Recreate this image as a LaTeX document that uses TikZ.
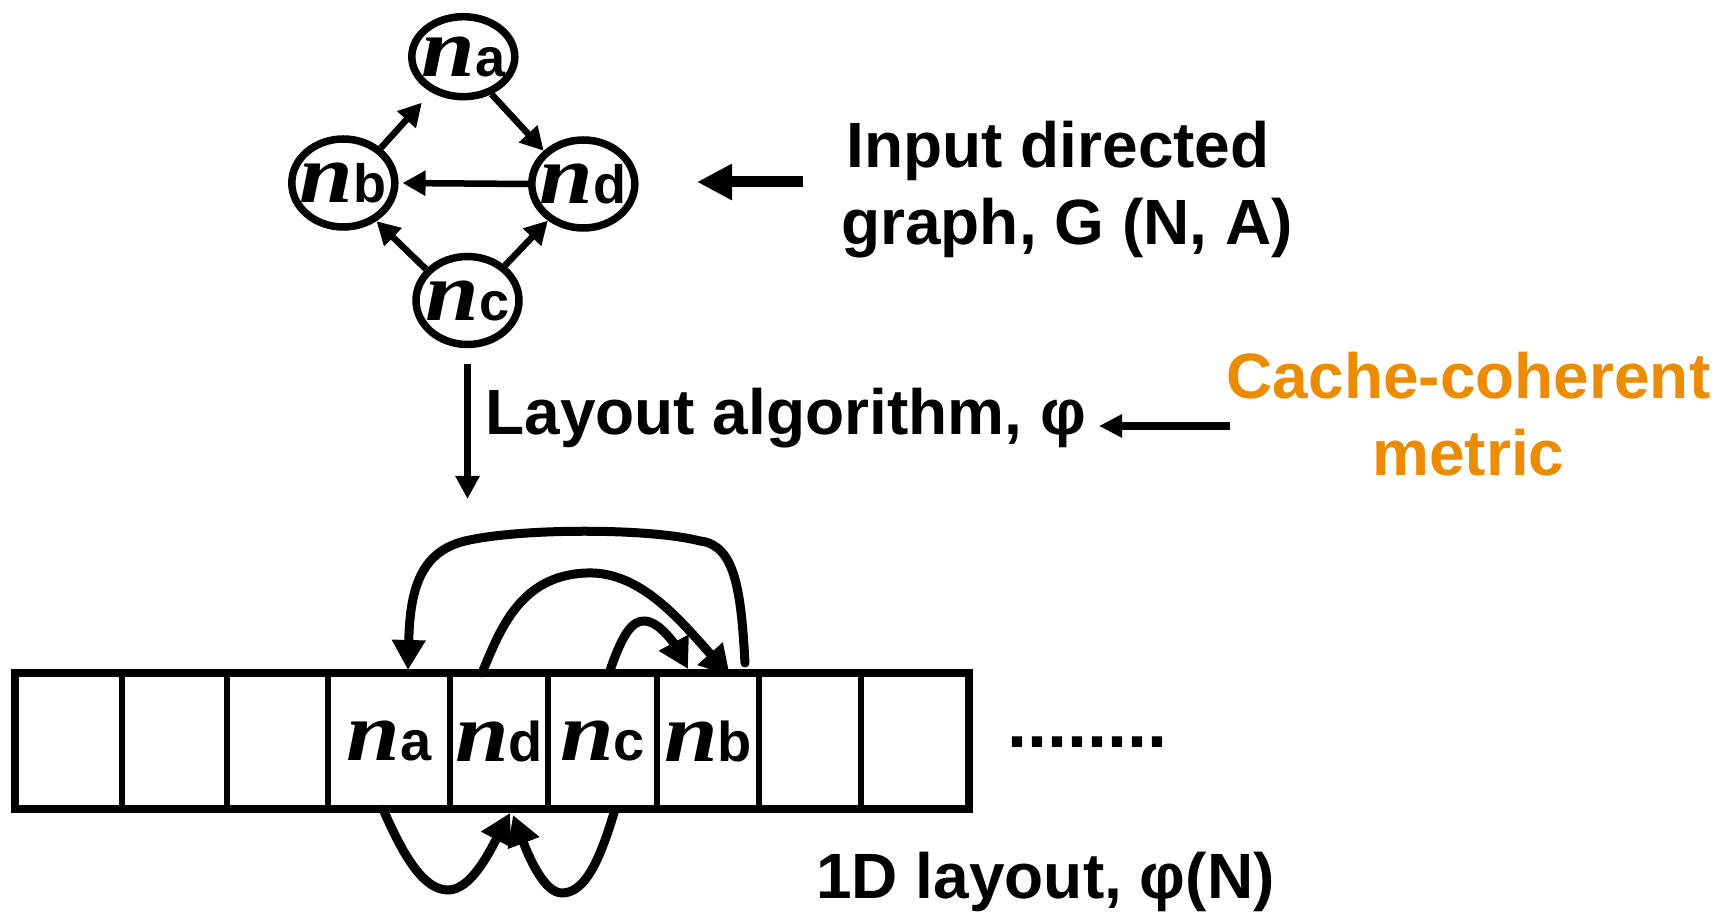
\documentclass[tikz,border=0pt]{standalone}
\usepackage{fontspec}
\setmainfont{Liberation Sans}
\newfontfamily\serifn{Liberation Serif}[FakeStretch=1.15]
\usetikzlibrary{arrows.meta,shapes.geometric,calc}

\definecolor{metricorange}{RGB}{235,140,0}

% node label: heavy italic n followed by an upright bold letter
\newcommand\gnode[1]{\makebox[0pt]{{\serifn\bfseries\itshape\fontsize{42pt}{42pt}\selectfont n}{\bfseries\fontsize{27pt}{27pt}\selectfont #1}}}
\newcommand\cellname[1]{{\serifn\bfseries\itshape\fontsize{42pt}{42pt}\selectfont n}{\bfseries\fontsize{28pt}{28pt}\selectfont #1}}

\begin{document}
\begin{tikzpicture}[x=0.5pt,y=-0.5pt,
  vertex/.style={ellipse, draw, line width=3.75pt, minimum width=51.5pt,
                 minimum height=44pt, inner sep=0pt},
  garrow/.style={line width=3.25pt, -{Triangle[length=11.5pt,width=12pt]}},
  cellbox/.style={rectangle, draw, line width=3pt, minimum width=#1,
                  minimum height=68pt, inner sep=0pt, outer sep=0pt},
  arc/.style={line width=4.5pt, line cap=round,
              -{Triangle[length=15pt,width=16pt]}},
  lbl/.style={font=\bfseries\fontsize{32pt}{38.5pt}\selectfont, inner sep=0pt},
  bigarrow/.style={line width=5.5pt, -{Triangle[length=17.5pt,width=17pt]}},
  midarrow/.style={line width=4pt, -{Triangle[length=11.5pt,width=11pt]}},
  downarrow/.style={line width=3.25pt, -{Triangle[length=11.5pt,width=11.5pt]}}
]
\fill[white] (0,0) rectangle (1731,913);
\useasboundingbox (0,0) rectangle (1731,913);

% input graph
\node[vertex, minimum height=40pt] (na) at (463.3,56.7) {\gnode{a}};
\node[vertex] (nb) at (343.3,183)  {\gnode{b}};
\node[vertex] (nd) at (583.3,184)  {\gnode{d}};
\node[vertex] (nc) at (467.5,300.5) {\gnode{c}};

\draw[garrow, shorten >=7pt] (nb.43) -- (na.228);
\draw[garrow] (na.307) -- (nd.140);
\draw[garrow, shorten >=2pt] (nd.west) -- (nb.east);
\draw[garrow] (nc.143) -- (nb.311);
\draw[garrow] (nc.43) -- (nd.226);

% labels
\node[lbl, align=center] (inlbl) at (1067,189.4)
  {Input directed\hspace*{.28em}\\graph, G (N, A)};
\node[lbl, align=center, text=metricorange] (cache) at (1468.5,413.7)
  {Cache-coherent\\metric};
\node[lbl, anchor=base west] (laylbl) at (485,435) {Layout algorithm, φ};
\node[lbl, anchor=base west] (onedlbl) at (816,899) {1D layout, φ(N)};

\coordinate (inTail) at (803,182);
\coordinate (inTip) at (697,182);
\draw[bigarrow] (inTail) -- (inTip);

\coordinate (cacheTail) at (1230,426);
\coordinate (cacheTip) at (1099,426);
\draw[midarrow] (cacheTail) -- (cacheTip);

\coordinate (layTip) at (470,499);
\draw[downarrow, shorten <=8pt] (nc.south) -- (nc.south |- layTip);

% one-dimensional layout
\node[cellbox=53.5pt] (e1) at (68.5,741) {};
\node[cellbox=52.5pt] (e2) at (174.5,741) {};
\node[cellbox=50.5pt] (e3) at (277.5,741) {};
\node[cellbox=61pt]   (cA) at (389,741) {\cellname{a}};
\node[cellbox=49pt]   (cD) at (499,741) {\cellname{d}};
\node[cellbox=54.5pt] (cC) at (602.5,741) {\cellname{c}};
\node[cellbox=51pt]   (cB) at (708,741) {\cellname{b}};
\node[cellbox=51pt]   (e8) at (810,741) {};
\node[cellbox=54pt]   (e9) at (915,741) {};
\draw[line width=4pt] (e1.north west) rectangle (e9.south east);

\node[font=\bfseries\fontsize{36pt}{36pt}\selectfont, inner sep=0pt,
      anchor=base west] (dots) at (1007,748) {........};

% arcs of the graph in the layout
\draw[arc] ($(cB.north)+(37,-10)$) .. controls (741,590) and (735,545) .. (700,541)
  .. controls (650,528) and (520,528) .. (465,541)
  .. controls (420,552) and (410,590) .. ($(cA.north)+(19,-3)$);
\draw[arc] ($(cD.north)+(-17,0)$) .. controls (500,630) and (520,575) .. (587,573)
  .. controls (640,571) and (680,620) .. ($(cB.north)+(22,3)$);
\draw[arc] ($(cC.north)+(7,-1)$) .. controls (622,635) and (632,620) .. (645,621)
  .. controls (660,622) and (675,645) .. ($(cB.north)+(-20,-4)$);
\draw[arc] ($(cA.south)+(-6,0)$) .. controls (405,860) and (425,890) .. (448,890)
  .. controls (470,890) and (488,855) .. ($(cD.south)+(11,4)$);
\draw[arc] ($(cC.south)+(12,2)$) .. controls (600,860) and (585,893) .. (562,893)
  .. controls (545,893) and (530,860) .. ($(cD.south)+(14,6)$);
\end{tikzpicture}
\end{document}
